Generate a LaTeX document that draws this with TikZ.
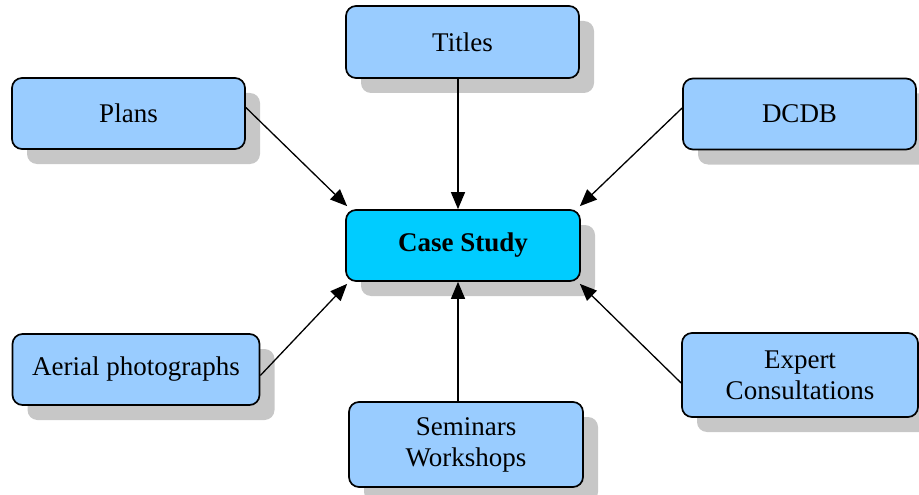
\documentclass[tikz,border=0pt]{standalone}
\usepackage{fontspec}
\setmainfont{Liberation Serif}
\usetikzlibrary{shadows,arrows.meta}
\begin{document}
\begin{tikzpicture}[x=1pt,y=-1pt,
  box/.style={draw=black, line width=1.7pt, rounded corners=10pt, fill=boxblue,
    align=center, inner sep=0pt, font=\fontsize{27}{31}\selectfont,
    drop shadow={shadow xshift=15pt, shadow yshift=-15pt, fill=black!22, opacity=1}},
  arr/.style={line width=1.3pt, -{Triangle[length=17pt,width=14pt]}}]
\definecolor{boxblue}{HTML}{99CCFF}
\definecolor{casecyan}{HTML}{00CCFF}
\useasboundingbox (0,0) rectangle (919,495);
\node[box, minimum width=233pt, minimum height=72pt] (titles) at (462.5,42) {Titles};
\node[box, minimum width=233pt, minimum height=71pt] (plans) at (128.5,113.5) {Plans};
\node[box, minimum width=233pt, minimum height=71pt] (dcdb) at (799.5,114) {DCDB};
\node[box, fill=casecyan, minimum width=234pt, minimum height=71pt, font=\fontsize{27}{31}\selectfont\bfseries] (case) at (463,245.5) {Case Study};
\node[box, minimum width=247pt, minimum height=71pt] (aerial) at (136,369.5) {Aerial photographs};
\node[box, minimum width=236pt, minimum height=84pt] (expert) at (800,375) {Expert\\Consultations};
\node[box, minimum width=234pt, minimum height=85pt] (seminars) at (466,444.5) {Seminars\\Workshops};
\coordinate (tnw) at ([shift={(2,-3)}]case.north west);
\coordinate (tne) at ([shift={(-1,-3)}]case.north east);
\coordinate (tsw) at ([shift={(2,2)}]case.south west);
\coordinate (tse) at ([shift={(-1,2)}]case.south east);
\draw[arr] (titles.south -| 458,0) -- (case.north -| 458,0);
\draw[arr] ([yshift=6]plans.east) -- (tnw);
\draw[arr] ([yshift=6]dcdb.west) -- (tne);
\draw[arr] ([yshift=-6]aerial.east) -- (tsw);
\draw[arr] ([yshift=-8]expert.west) -- (tse);
\draw[arr] (seminars.north -| 458,0) -- (case.south -| 458,0);
\end{tikzpicture}
\end{document}
